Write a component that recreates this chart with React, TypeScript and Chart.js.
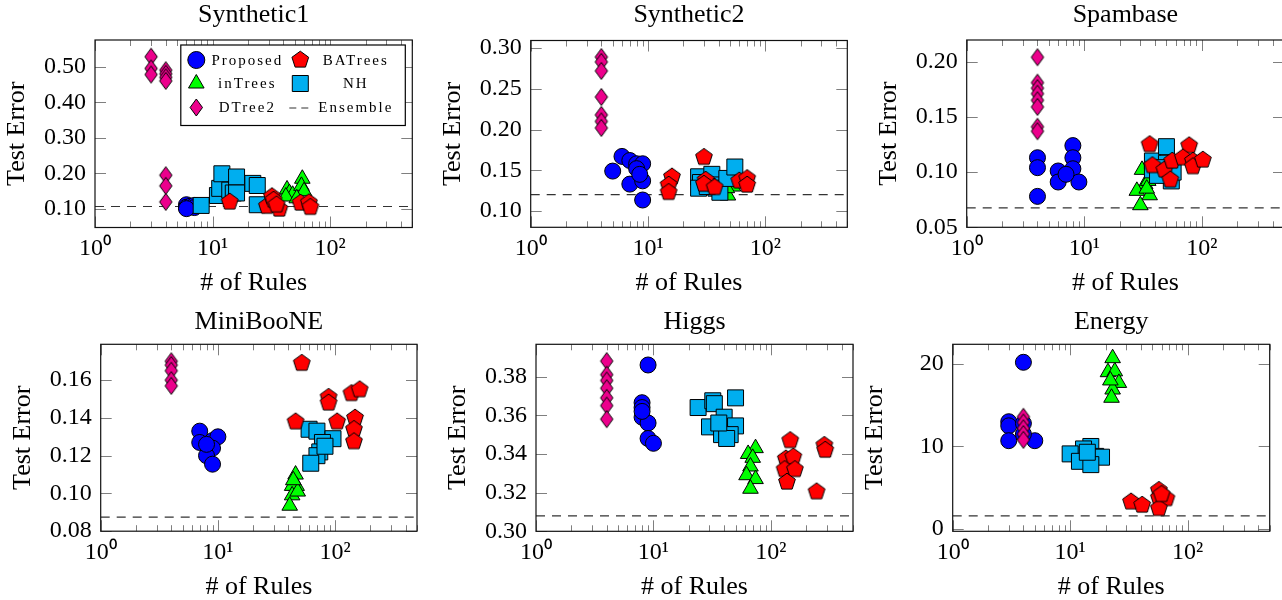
import React, { useEffect, useRef } from "react";
import { Chart, registerables } from "chart.js";

Chart.register(...registerables);

const FONT = '"Liberation Serif", "Times New Roman", Times, serif';

type Pt = [number, number];

// ---------- shared axis data ----------
const X_MIN = 1;
const X_MAX = 500;
const X_TICKS = [1, 2, 3, 4, 5, 6, 7, 8, 9, 10, 20, 30, 40, 50, 60, 70, 80, 90, 100, 200, 300, 400, 500];
const X_LABELED = [1, 10, 100];
const METHODS = ["Proposed", "inTrees", "DTree2", "BATrees", "NH"];
const ENSEMBLE_LABEL = "Ensemble";
const TITLES = ["Synthetic1", "Synthetic2", "Spambase", "MiniBooNE", "Higgs", "Energy"];
const X_TITLE = "# of Rules";
const Y_TITLE = "Test Error";

// ---------- Synthetic1 ----------
const syn1Proposed: Pt[] = [[6, 0.112], [6, 0.105], [6.5, 0.108], [7, 0.11], [7, 0.104], [6, 0.101]];
const syn1InTrees: Pt[] = [[43, 0.155], [45, 0.145], [48, 0.14], [42, 0.135], [58, 0.185], [57, 0.165], [60, 0.15], [52, 0.13]];
const syn1DTree2: Pt[] = [[3, 0.528], [3, 0.495], [3, 0.478], [4, 0.49], [4, 0.48], [4, 0.47], [4, 0.46], [4, 0.195], [4, 0.165], [4, 0.12]];
const syn1BATrees: Pt[] = [[14, 0.12], [29, 0.108], [32, 0.135], [33, 0.125], [37, 0.1], [56, 0.117], [66, 0.118], [68, 0.105], [35, 0.112]];
const syn1NH: Pt[] = [[8, 0.11], [11, 0.138], [11.5, 0.158], [12, 0.199], [14, 0.153], [15, 0.145], [16, 0.19], [16, 0.145], [22, 0.172], [24, 0.166], [24, 0.112]];
const syn1Ensemble = 0.107;
const syn1YTicks = [0.1, 0.2, 0.3, 0.4, 0.5];

// ---------- Synthetic2 ----------
const syn2Proposed: Pt[] = [[5, 0.149], [6, 0.167], [7, 0.162], [8, 0.158], [9, 0.158], [8, 0.152], [7, 0.133], [9, 0.137], [9, 0.1135], [8.5, 0.145]];
const syn2InTrees: Pt[] = [[48, 0.119], [50, 0.135], [53, 0.13], [47, 0.128]];
const syn2DTree2: Pt[] = [[4, 0.289], [4, 0.283], [4, 0.272], [4, 0.24], [4, 0.218], [4, 0.21], [4, 0.202]];
const syn2BATrees: Pt[] = [[16, 0.142], [15, 0.132], [15, 0.123], [30, 0.166], [31, 0.138], [30, 0.133], [37, 0.129], [60, 0.137], [70, 0.14], [70, 0.132]];
const syn2NH: Pt[] = [[27, 0.142], [28, 0.135], [27, 0.128], [35, 0.145], [36, 0.132], [38, 0.128], [41, 0.123], [47, 0.14], [55, 0.154], [32, 0.13]];
const syn2Ensemble = 0.12;
const syn2YTicks = [0.1, 0.15, 0.2, 0.25, 0.3];

// ---------- Spambase ----------
const spamProposed: Pt[] = [[4, 0.113], [4, 0.104], [4, 0.078], [6, 0.101], [6, 0.091], [8, 0.124], [8, 0.113], [8, 0.103], [9, 0.091], [7, 0.098]];
const spamInTrees: Pt[] = [[31, 0.102], [33, 0.089], [35, 0.092], [28, 0.083], [36, 0.079], [30, 0.07], [34, 0.085]];
const spamDTree2: Pt[] = [[4, 0.204], [4, 0.181], [4, 0.176], [4, 0.171], [4, 0.165], [4, 0.159], [4, 0.141], [4, 0.137]];
const spamBATrees: Pt[] = [[36, 0.125], [78, 0.124], [38, 0.106], [48, 0.102], [54, 0.093], [56, 0.11], [69, 0.113], [84, 0.11], [84, 0.105], [102, 0.111]];
const spamNH: Pt[] = [[38, 0.11], [38, 0.102], [50, 0.123], [50, 0.108], [55, 0.092], [57, 0.1], [45, 0.104], [42, 0.097]];
const spamEnsemble = 0.0675;
const spamYTicks = [0.05, 0.1, 0.15, 0.2];

// ---------- MiniBooNE ----------
const mbProposed: Pt[] = [[7, 0.133], [7, 0.127], [9, 0.128], [10, 0.13], [9, 0.124], [8, 0.12], [9, 0.1155], [8, 0.126]];
const mbInTrees: Pt[] = [[46, 0.11], [47, 0.104], [43, 0.104], [43, 0.099], [41, 0.0935], [48, 0.101], [44, 0.107]];
const mbDTree2: Pt[] = [[4, 0.17], [4, 0.168], [4, 0.165], [4, 0.16], [4, 0.157]];
const mbBATrees: Pt[] = [[52, 0.169], [46, 0.138], [88, 0.151], [88, 0.148], [104, 0.138], [138, 0.153], [162, 0.155], [148, 0.14], [145, 0.134], [145, 0.1275]];
const mbNH: Pt[] = [[60, 0.134], [70, 0.133], [96, 0.129], [78, 0.127], [74, 0.122], [70, 0.12], [62, 0.116], [82, 0.125]];
const mbEnsemble = 0.0875;
const mbYTicks = [0.08, 0.1, 0.12, 0.14, 0.16];

// ---------- Higgs ----------
const higgsProposed: Pt[] = [[9, 0.386], [8, 0.3665], [8, 0.364], [8, 0.359], [9, 0.356], [9, 0.348], [10, 0.3455], [8, 0.362]];
const higgsInTrees: Pt[] = [[74, 0.343], [64, 0.34], [70, 0.338], [67, 0.3335], [62, 0.329], [74, 0.327], [67, 0.322]];
const higgsDTree2: Pt[] = [[4, 0.388], [4, 0.381], [4, 0.378], [4, 0.374], [4, 0.369], [4, 0.365], [4, 0.358]];
const higgsBATrees: Pt[] = [[146, 0.347], [134, 0.3375], [155, 0.3385], [131, 0.332], [160, 0.332], [137, 0.3255], [245, 0.3205], [285, 0.3445], [290, 0.342]];
const higgsNH: Pt[] = [[24, 0.364], [32, 0.3675], [33, 0.366], [50, 0.369], [40, 0.359], [30, 0.354], [50, 0.3545], [38, 0.35], [45, 0.35], [42, 0.348], [36, 0.356]];
const higgsEnsemble = 0.308;
const higgsYTicks = [0.3, 0.32, 0.34, 0.36, 0.38];

// ---------- Energy ----------
const energyProposed: Pt[] = [[4, 20.2], [3, 13], [3, 12.5], [4, 12.8], [3, 10.7], [5, 10.7], [4, 11.5]];
const energyInTrees: Pt[] = [[23, 20.7], [21, 19], [24, 19.1], [26, 17.7], [23, 16.9], [22.5, 15.9], [22, 18]];
const energyDTree2: Pt[] = [[4, 13.6], [4, 12.9], [4, 12.2], [4, 11.5], [4, 10.8]];
const energyBATrees: Pt[] = [[57, 4.7], [57, 3.8], [66, 3.7], [33, 3.3], [41, 2.9], [57, 2.5], [60, 4.2]];
const energyNH: Pt[] = [[15, 10], [13, 9.7], [10, 9.1], [16.5, 8.8], [18.5, 8.7], [12, 8.2], [15, 7.8], [14, 9.3]];
const energyEnsemble = 1.6;
const energyYTicks = [0, 10, 20];

// ---------- styles ----------
const STYLE: Record<string, { color: string; shape: string; order: number }> = {
  Proposed: { color: "#0000FF", shape: "circle", order: 4 },
  inTrees: { color: "#00FF00", shape: "triangle", order: 3 },
  DTree2: { color: "#EC008C", shape: "diamond", order: 0 },
  BATrees: { color: "#FF0000", shape: "pentagon", order: 1 },
  NH: { color: "#00AEEF", shape: "square", order: 2 },
};

const CW = 440;
const CH = 320;
const TICK_SIZE = 24;
const TITLE_SIZE = 26;
const TITLE_LH = 1.1;
const HALF_TITLE_LH = (TITLE_SIZE * TITLE_LH) / 2;

interface PanelCfg {
  title: string;
  series: Pt[][];
  ensemble: number;
  yMin: number;
  yMax: number;
  yTicks: number[];
  yDecimals: number;
  cx: number;
  cy: number;
  left: number;
  top: number;
  right: number;
  bottom: number;
  titleY: number;
  legend: boolean;
}

const PANELS: PanelCfg[] = [
  { title: TITLES[0], series: [syn1Proposed, syn1InTrees, syn1DTree2, syn1BATrees, syn1NH], ensemble: syn1Ensemble, yMin: 0.048, yMax: 0.575, yTicks: syn1YTicks, yDecimals: 2, cx: 0, cy: 0, left: 95, top: 40, right: 412.3, bottom: 227.5, titleY: 15, legend: true },
  { title: TITLES[1], series: [syn2Proposed, syn2InTrees, syn2DTree2, syn2BATrees, syn2NH], ensemble: syn2Ensemble, yMin: 0.08, yMax: 0.3093, yTicks: syn2YTicks, yDecimals: 2, cx: 430, cy: 0, left: 100.7, top: 40.5, right: 417.3, bottom: 227.3, titleY: 15, legend: false },
  { title: TITLES[2], series: [spamProposed, spamInTrees, spamDTree2, spamBATrees, spamNH], ensemble: spamEnsemble, yMin: 0.05, yMax: 0.2196, yTicks: spamYTicks, yDecimals: 2, cx: 870, cy: 0, left: 96.7, top: 40, right: 414, bottom: 227.3, titleY: 15, legend: false },
  { title: TITLES[3], series: [mbProposed, mbInTrees, mbDTree2, mbBATrees, mbNH], ensemble: mbEnsemble, yMin: 0.08, yMax: 0.179, yTicks: mbYTicks, yDecimals: 2, cx: 0, cy: 300, left: 100.7, top: 44.3, right: 417, bottom: 231.2, titleY: 22, legend: false },
  { title: TITLES[4], series: [higgsProposed, higgsInTrees, higgsDTree2, higgsBATrees, higgsNH], ensemble: higgsEnsemble, yMin: 0.3, yMax: 0.3967, yTicks: higgsYTicks, yDecimals: 2, cx: 435, cy: 300, left: 101, top: 44.3, right: 418, bottom: 231.3, titleY: 22, legend: false },
  { title: TITLES[5], series: [energyProposed, energyInTrees, energyDTree2, energyBATrees, energyNH], ensemble: energyEnsemble, yMin: -0.28, yMax: 22.38, yTicks: energyYTicks, yDecimals: 0, cx: 855, cy: 300, left: 97.7, top: 44.3, right: 414.7, bottom: 231.3, titleY: 22, legend: false },
];

// ---------- marker drawing ----------
function tracePath(ctx: CanvasRenderingContext2D, shape: string, x: number, y: number) {
  ctx.beginPath();
  if (shape === "circle") {
    ctx.arc(x, y, 8.5, 0, Math.PI * 2);
  } else if (shape === "square") {
    ctx.rect(x - 8, y - 8, 16, 16);
  } else if (shape === "triangle") {
    const r = 9;
    for (let k = 0; k < 3; k++) {
      const a = -Math.PI / 2 + (k * 2 * Math.PI) / 3;
      const px = x + r * Math.cos(a);
      const py = y + r * Math.sin(a);
      if (k === 0) ctx.moveTo(px, py);
      else ctx.lineTo(px, py);
    }
  } else if (shape === "diamond") {
    ctx.moveTo(x, y - 8.5);
    ctx.lineTo(x + 6.2, y);
    ctx.lineTo(x, y + 8.5);
    ctx.lineTo(x - 6.2, y);
  } else if (shape === "pentagon") {
    const r = 8.8;
    for (let k = 0; k < 5; k++) {
      const a = -Math.PI / 2 + (k * 2 * Math.PI) / 5;
      const px = x + r * Math.cos(a);
      const py = y + r * Math.sin(a);
      if (k === 0) ctx.moveTo(px, py);
      else ctx.lineTo(px, py);
    }
  }
  ctx.closePath();
}

function drawShape(ctx: CanvasRenderingContext2D, shape: string, color: string, x: number, y: number) {
  tracePath(ctx, shape, x, y);
  ctx.fillStyle = color;
  ctx.fill();
  ctx.strokeStyle = "#000";
  ctx.lineWidth = 1;
  ctx.stroke();
}

function makeMarker(shape: string, color: string): HTMLCanvasElement {
  const c = document.createElement("canvas");
  c.width = 22;
  c.height = 22;
  const g = c.getContext("2d")!;
  drawShape(g, shape, color, 11, 11);
  return c;
}

function pointStyleFor(name: string): { pointStyle: any; pointRadius: number } {
  const s = STYLE[name];
  if (s.shape === "circle") return { pointStyle: "circle", pointRadius: 8 };
  if (s.shape === "square") return { pointStyle: "rect", pointRadius: 11.3 };
  if (s.shape === "triangle") return { pointStyle: "triangle", pointRadius: 9 };
  return { pointStyle: makeMarker(s.shape, s.color), pointRadius: 9 };
}

const isPow10 = (v: number) => Math.abs(Math.log10(v) - Math.round(Math.log10(v))) < 1e-9;
const SUP: Record<number, string> = { 0: "\u2070", 1: "\u00B9", 2: "\u00B2" };

// ---------- plugins ----------
const frameTicksPlugin = {
  id: "frameTicks",
  beforeDatasetsDraw(chart: any) {
    const { ctx, chartArea: a, scales } = chart;
    ctx.save();
    ctx.strokeStyle = "rgba(0,0,0,0.5)";
    ctx.lineWidth = 1;
    ctx.beginPath();
    for (const t of scales.x.ticks) {
      const px = Math.round(scales.x.getPixelForValue(t.value)) + 0.5;
      const len = isPow10(t.value) ? 11 : 6;
      ctx.moveTo(px, a.bottom);
      ctx.lineTo(px, a.bottom - len);
      ctx.moveTo(px, a.top);
      ctx.lineTo(px, a.top + len);
    }
    for (const t of scales.y.ticks) {
      const py = Math.round(scales.y.getPixelForValue(t.value)) + 0.5;
      ctx.moveTo(a.left, py);
      ctx.lineTo(a.left + 11, py);
      ctx.moveTo(a.right, py);
      ctx.lineTo(a.right - 11, py);
    }
    ctx.stroke();
    ctx.restore();
  },
  afterDatasetsDraw(chart: any) {
    const { ctx, chartArea: a } = chart;
    ctx.save();
    ctx.strokeStyle = "#111";
    ctx.lineWidth = 1.2;
    ctx.strokeRect(a.left, a.top, a.right - a.left, a.bottom - a.top);
    ctx.restore();
  },
};

const boxLegendPlugin = {
  id: "boxLegend",
  afterDraw(chart: any) {
    const { ctx, chartArea: a } = chart;
    const x1 = a.right - 7;
    const x0 = x1 - 224.5;
    const y0 = a.top + 5;
    const h = 80.5;
    ctx.save();
    ctx.fillStyle = "#fff";
    ctx.fillRect(x0, y0, x1 - x0, h);
    ctx.strokeStyle = "#000";
    ctx.lineWidth = 1.2;
    ctx.strokeRect(x0, y0, x1 - x0, h);
    const rows = [y0 + 15, y0 + 38.5, y0 + 62.5];
    const cols = [
      { mx: x0 + 15.5, tx: x0 + 65.5 },
      { mx: x0 + 119.5, tx: x0 + 174 },
    ];
    const entries = [METHODS[0], METHODS[3], METHODS[1], METHODS[4], METHODS[2], ENSEMBLE_LABEL];
    ctx.font = `15px ${FONT}`;
    (ctx as any).letterSpacing = "2px";
    ctx.textAlign = "center";
    ctx.textBaseline = "middle";
    entries.forEach((name, i) => {
      const col = cols[i % 2];
      const y = rows[Math.floor(i / 2)];
      if (name === ENSEMBLE_LABEL) {
        ctx.save();
        ctx.strokeStyle = "#333";
        ctx.lineWidth = 1.2;
        ctx.setLineDash([7, 5]);
        ctx.beginPath();
        ctx.moveTo(col.mx - 11, y + 0.5);
        ctx.lineTo(col.mx + 12, y + 0.5);
        ctx.stroke();
        ctx.restore();
      } else {
        const s = STYLE[name];
        drawShape(ctx, s.shape, s.color, col.mx, y);
      }
      ctx.fillStyle = "#000";
      ctx.fillText(name, col.tx + 1, y + 1);
    });
    ctx.restore();
  },
};

function buildConfig(p: PanelCfg): any {
  const lpb = CH - HALF_TITLE_LH - 56 - p.bottom;
  const hx = CH - lpb - p.bottom;
  const datasets: any[] = METHODS.map((name, i) => {
    const s = STYLE[name];
    const ps = pointStyleFor(name);
    return {
      label: name,
      data: p.series[i].map(([x, y]) => ({ x, y })),
      pointStyle: ps.pointStyle,
      pointRadius: ps.pointRadius,
      pointBackgroundColor: s.color,
      pointBorderColor: "#000",
      pointBorderWidth: 1,
      backgroundColor: s.color,
      borderColor: "#000",
      showLine: false,
      order: s.order,
      clip: false,
    };
  });
  datasets.push({
    label: ENSEMBLE_LABEL,
    data: [
      { x: X_MIN, y: p.ensemble },
      { x: X_MAX, y: p.ensemble },
    ],
    showLine: true,
    borderColor: "#333",
    borderWidth: 1.2,
    borderDash: [9, 7],
    pointRadius: 0,
    order: 10,
  });
  const tickFont = { family: FONT, size: TICK_SIZE, weight: "normal" as const, lineHeight: 1.2 };
  const titleFont = { family: FONT, size: TITLE_SIZE, weight: "normal" as const, lineHeight: TITLE_LH };
  return {
    type: "scatter",
    data: { datasets },
    options: {
      animation: false,
      responsive: false,
      events: [],
      layout: { padding: { left: 0, top: 0, right: CW - p.right, bottom: lpb } },
      plugins: {
        legend: { display: false },
        tooltip: { enabled: false },
        title: {
          display: true,
          text: p.title,
          fullSize: false,
          color: "#000",
          font: titleFont,
          padding: { top: p.titleY - HALF_TITLE_LH, bottom: p.top - p.titleY - HALF_TITLE_LH },
        },
      },
      scales: {
        x: {
          type: "logarithmic",
          min: X_MIN,
          max: X_MAX,
          afterBuildTicks: (ax: any) => {
            ax.ticks = X_TICKS.map((v) => ({ value: v }));
          },
          afterFit: (s: any) => {
            s.height = hx;
          },
          grid: { display: false, drawTicks: false },
          border: { display: false },
          ticks: {
            autoSkip: false,
            maxRotation: 0,
            minRotation: 0,
            padding: 7,
            color: "#000",
            font: tickFont,
            callback: (v: any) => {
              const n = Number(v);
              if (X_LABELED.includes(n)) return "10" + SUP[Math.round(Math.log10(n))];
              return "";
            },
          },
          title: { display: true, text: X_TITLE, color: "#000", font: titleFont, padding: { top: 0, bottom: 0 } },
        },
        y: {
          type: "linear",
          min: p.yMin,
          max: p.yMax,
          afterBuildTicks: (ax: any) => {
            ax.ticks = p.yTicks.map((v) => ({ value: v }));
          },
          afterFit: (s: any) => {
            s.width = p.left;
          },
          grid: { display: false, drawTicks: false },
          border: { display: false },
          ticks: {
            padding: 9,
            color: "#000",
            font: tickFont,
            callback: (v: any) => Number(v).toFixed(p.yDecimals),
          },
          title: { display: true, text: Y_TITLE, color: "#000", font: titleFont, padding: { top: p.left - 78 - HALF_TITLE_LH, bottom: 0 } },
        },
      },
    },
    plugins: p.legend ? [frameTicksPlugin, boxLegendPlugin] : [frameTicksPlugin],
  };
}

function Panel({ cfg }: { cfg: PanelCfg }) {
  const ref = useRef<HTMLCanvasElement>(null);
  useEffect(() => {
    const chart = new Chart(ref.current!, buildConfig(cfg));
    return () => chart.destroy();
  }, [cfg]);
  return (
    <canvas
      ref={ref}
      width={CW}
      height={CH}
      style={{ position: "absolute", left: cfg.cx, top: cfg.cy, width: CW, height: CH, display: "block" }}
    />
  );
}

export default function App() {
  return (
    <div
      style={{
        position: "fixed",
        left: 0,
        top: 0,
        width: 1282,
        height: 600,
        overflow: "hidden",
        background: "#fff",
      }}
    >
      {PANELS.map((p) => (
        <Panel key={p.title} cfg={p} />
      ))}
    </div>
  );
}
